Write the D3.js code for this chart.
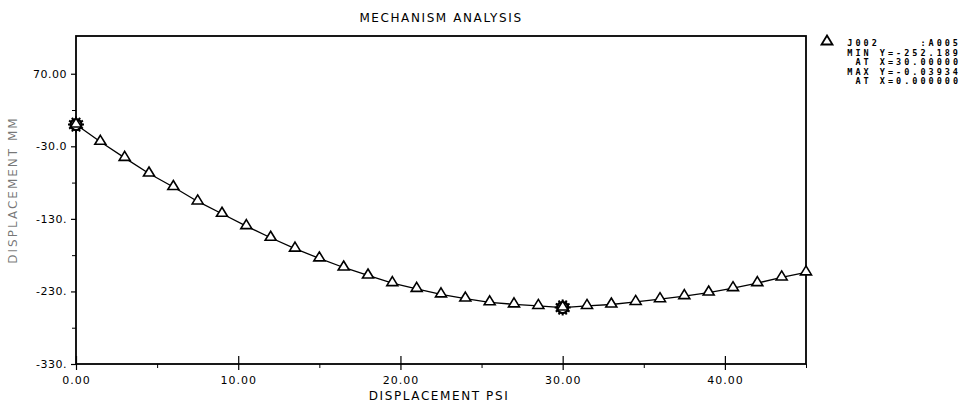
<!DOCTYPE html>
<html>
<head>
<meta charset="utf-8">
<script src="https://cdn.jsdelivr.net/npm/d3@7"></script>
<style>
  html, body { margin: 0; padding: 0; background: #fff; }
  svg { display: block; }
  text { font-family: "DejaVu Sans", "Liberation Sans", sans-serif; fill: #000; }
</style>
</head>
<body>
<svg id="chart"></svg>
<script>
// chart text
var title = "MECHANISM ANALYSIS";
var xTitle = "DISPLACEMENT PSI";
var yTitle = "DISPLACEMENT MM";

// series J002 :A005
var xValues = [0, 1.5, 3, 4.5, 6, 7.5, 9, 10.5, 12, 13.5, 15, 16.5, 18, 19.5, 21, 22.5,
    24, 25.5, 27, 28.5, 30, 31.5, 33, 34.5, 36, 37.5, 39, 40.5, 42, 43.5, 45];
var yValues = [-0.04, -23.8, -45.9, -67.5, -86.1, -106.0, -122.9, -140.0, -156.0, -171.0,
    -184.5, -197.0, -208.0, -218.5, -226.5, -234.0, -239.8, -245.0, -247.8, -250.0, -252.19,
    -250.0, -248.0, -244.5, -240.7, -236.5, -231.5, -225.5, -218.5, -210.7, -203.8];
// points flagged as max / min
var extremeX = [0, 30];

// axis ticks
var xTickValues = [0, 10, 20, 30, 40];
var xTickLabels = ["0.00", "10.00", "20.00", "30.00", "40.00"];
var xMinorTicks = [5, 15, 25, 35, 45];
var yTickValues = [70, -30, -130, -230, -330];
var yTickLabels = ["70.00", "-30.0", "-130.", "-230.", "-330."];
var yMinorTicks = [20, -80, -180, -280];

// legend block
var legendLines = ["J002     :A005", "MIN Y=-252.189", "AT X=30.00000", "MAX Y=-0.03934", "AT X=0.000000"];

var width = 964;
var height = 409;
var plot = { left: 76, right: 806, top: 36, bottom: 364 };

var svg = d3.select("#chart")
    .attr("width", width)
    .attr("height", height);

var x = d3.scaleLinear().domain([0, 45]).range([plot.left, plot.right]);
var y = d3.scaleLinear().domain([-330, 122]).range([plot.bottom, plot.top]);

// frame
svg.append("rect")
    .attr("x", plot.left)
    .attr("y", plot.top)
    .attr("width", plot.right - plot.left)
    .attr("height", plot.bottom - plot.top)
    .attr("fill", "none")
    .attr("stroke", "black")
    .attr("stroke-width", 1.8);

// x axis
var xAxis = d3.axisBottom(x)
    .tickValues(xTickValues)
    .tickFormat((d, i) => xTickLabels[i])
    .tickSizeInner(6)
    .tickSizeOuter(0)
    .tickPadding(6);
var gx = svg.append("g")
    .attr("transform", "translate(0," + plot.bottom + ")")
    .call(xAxis);
gx.select(".domain").remove();
gx.selectAll(".tick line").attr("y1", -8).attr("stroke-width", 1.2);
gx.selectAll(".tick text")
    .style("font-size", "11px")
    .style("letter-spacing", "1px")
    .style("font-family", "DejaVu Sans, sans-serif");

var gxMinor = svg.append("g")
    .attr("transform", "translate(0," + plot.bottom + ")")
    .call(d3.axisBottom(x).tickValues(xMinorTicks).tickFormat("").tickSizeInner(4).tickSizeOuter(0));
gxMinor.select(".domain").remove();

// y axis
var yAxis = d3.axisLeft(y)
    .tickValues(yTickValues)
    .tickFormat((d, i) => yTickLabels[i])
    .tickSizeInner(5)
    .tickSizeOuter(0)
    .tickPadding(4);
var gy = svg.append("g")
    .attr("transform", "translate(" + plot.left + ",0)")
    .call(yAxis);
gy.select(".domain").remove();
gy.selectAll(".tick line").attr("stroke-width", 1.2);
gy.selectAll(".tick text")
    .style("font-size", "11px")
    .style("letter-spacing", "0.5px")
    .style("font-family", "DejaVu Sans, sans-serif");

var gyMinor = svg.append("g")
    .attr("transform", "translate(" + plot.left + ",0)")
    .call(d3.axisLeft(y).tickValues(yMinorTicks).tickFormat("").tickSizeInner(4).tickSizeOuter(0));
gyMinor.select(".domain").remove();

// titles
svg.append("text")
    .attr("x", 441)
    .attr("y", 22)
    .attr("text-anchor", "middle")
    .style("font-size", "12px")
    .style("letter-spacing", "1.6px")
    .text(title);

svg.append("text")
    .attr("x", 439)
    .attr("y", 400)
    .attr("text-anchor", "middle")
    .style("font-size", "12px")
    .style("letter-spacing", "1.6px")
    .text(xTitle);

svg.append("text")
    .attr("transform", "translate(17,190) rotate(-90)")
    .attr("text-anchor", "middle")
    .style("font-size", "12px")
    .style("letter-spacing", "2px")
    .attr("fill-opacity", 0.55)
    .text(yTitle);

// data
var data = xValues.map((d, i) => ({ x: d, y: yValues[i] }));

var line = d3.line()
    .x((d) => x(d.x))
    .y((d) => y(d.y));

svg.append("path")
    .attr("d", line(data))
    .attr("fill", "none")
    .attr("stroke", "black")
    .attr("stroke-width", 1.3);

// open triangle marker, base sitting just under the point
var tri = "M0,-6.5L5.5,2.5L-5.5,2.5Z";

function star() {
    var p = "";
    for (var k = 0; k < 12; k++) {
        var a = k * Math.PI / 6;
        p += "M" + (4.5 * Math.cos(a)).toFixed(2) + "," + (4.5 * Math.sin(a)).toFixed(2) +
            "L" + (8 * Math.cos(a)).toFixed(2) + "," + (8 * Math.sin(a)).toFixed(2);
    }
    return p;
}

var pts = svg.append("g").selectAll("g.pt")
    .data(data)
    .enter().append("g")
    .attr("class", "pt")
    .attr("transform", (d) => "translate(" + x(d.x) + "," + y(d.y) + ")");

pts.filter((d) => extremeX.indexOf(d.x) >= 0)
    .append("circle")
    .attr("r", 5.5)
    .attr("fill", "white")
    .attr("stroke", "black")
    .attr("stroke-width", 2.2);

pts.filter((d) => extremeX.indexOf(d.x) >= 0)
    .append("path")
    .attr("d", star())
    .attr("stroke", "black")
    .attr("stroke-width", 2);

pts.append("path")
    .attr("d", tri)
    .attr("fill", "white")
    .attr("stroke", "black")
    .attr("stroke-width", 1.6);

// legend
svg.append("path")
    .attr("d", tri)
    .attr("transform", "translate(827,42)")
    .attr("fill", "white")
    .attr("stroke", "black")
    .attr("stroke-width", 1.8);

svg.append("g").selectAll("text")
    .data(legendLines)
    .enter().append("text")
    .attr("x", 961)
    .attr("y", (d, i) => 46 + i * 9.6)
    .attr("text-anchor", "end")
    .style("white-space", "pre")
    .style("font-family", "DejaVu Sans Mono, monospace")
    .style("font-weight", "bold")
    .style("font-size", "8.5px")
    .style("letter-spacing", "3px")
    .text((d) => d);
</script>
</body>
</html>
